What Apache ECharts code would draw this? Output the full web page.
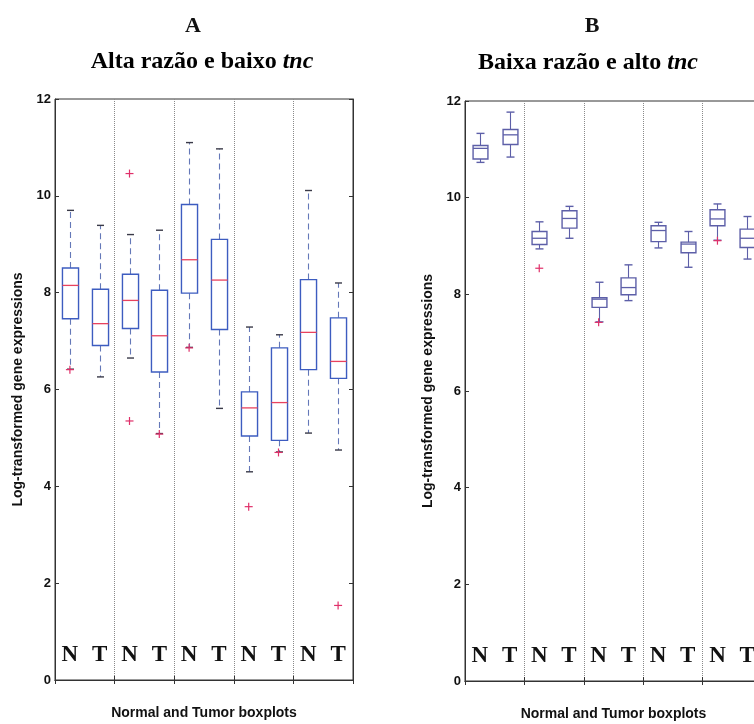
<!DOCTYPE html>
<html>
<head>
<meta charset="utf-8">
<script src="https://cdn.jsdelivr.net/npm/echarts@6/dist/echarts.min.js"></script>
<style>
html, body { margin: 0; padding: 0; background: #fff; }
#chart { width: 754px; height: 724px; }
</style>
</head>
<body>
<div id="chart"></div>
<script>
// categorias: pares normal / tumor
var categories = ['N', 'T', 'N', 'T', 'N', 'T', 'N', 'T', 'N', 'T'];

// A - Alta razão e baixo tnc
var aLow = [6.42, 6.26, 6.65, 5.09, 6.87, 5.61, 4.30, 4.71, 5.10, 4.75];
var aQ1 = [7.46, 6.91, 7.26, 6.36, 7.99, 7.24, 5.04, 4.95, 6.41, 6.23];
var aMed = [8.15, 7.36, 7.84, 7.11, 8.68, 8.26, 5.62, 5.73, 7.18, 6.58];
var aQ3 = [8.51, 8.07, 8.38, 8.05, 9.82, 9.10, 5.95, 6.86, 8.27, 7.48];
var aHigh = [9.70, 9.39, 9.20, 9.29, 11.10, 10.97, 7.29, 7.13, 10.11, 8.20];
var aOutliers = [[0, 6.41], [2, 10.46], [2, 5.35], [3, 5.08], [4, 6.86], [6, 3.58], [7, 4.70], [9, 1.54]];

// B - Baixa razão e alto tnc
var bLow = [10.73, 10.84, 8.94, 9.16, 7.43, 7.87, 8.96, 8.56, 9.12, 8.73];
var bQ1 = [10.80, 11.10, 9.03, 9.37, 7.73, 7.99, 9.09, 8.86, 9.42, 8.97];
var bMed = [11.02, 11.30, 9.16, 9.57, 7.90, 8.14, 9.32, 9.04, 9.56, 9.16];
var bQ3 = [11.08, 11.41, 9.30, 9.73, 7.93, 8.34, 9.42, 9.08, 9.75, 9.35];
var bHigh = [11.33, 11.77, 9.50, 9.82, 8.25, 8.61, 9.49, 9.30, 9.87, 9.61];
var bOutliers = [[2, 8.54], [4, 7.42], [8, 9.11]];

var chart = echarts.init(document.getElementById('chart'));

function boxData(lo, q1, med, q3, hi) {
    return categories.map(function (c, i) {
        return [i, lo[i], q1[i], med[i], q3[i], hi[i]];
    });
}

// desenha um boxplot estilo matlab
function boxRenderer(st) {
    return function (params, api) {
        var i = api.value(0);
        var lo = api.coord([i, api.value(1)]);
        var q1 = api.coord([i, api.value(2)]);
        var med = api.coord([i, api.value(3)]);
        var q3 = api.coord([i, api.value(4)]);
        var hi = api.coord([i, api.value(5)]);
        var band = api.size([1, 0])[0];
        var cx = Math.round(lo[0]) + 0.5;
        var hw = band * st.boxRatio / 2;
        var cw = st.capWidth / 2;
        var wStyle = { stroke: st.whisker, lineWidth: 1.1, lineDash: st.dash };
        var cStyle = { stroke: st.cap, lineWidth: 1.4 };
        return {
            type: 'group',
            children: [
                { type: 'line', shape: { x1: cx, y1: q3[1], x2: cx, y2: hi[1] }, style: wStyle },
                { type: 'line', shape: { x1: cx, y1: q1[1], x2: cx, y2: lo[1] }, style: wStyle },
                { type: 'line', shape: { x1: cx - cw, y1: hi[1], x2: cx + cw, y2: hi[1] }, style: cStyle },
                { type: 'line', shape: { x1: cx - cw, y1: lo[1], x2: cx + cw, y2: lo[1] }, style: cStyle },
                { type: 'rect', shape: { x: cx - hw, y: q3[1], width: hw * 2, height: q1[1] - q3[1] },
                  style: { fill: 'none', stroke: st.box, lineWidth: 1.4 } },
                { type: 'line', shape: { x1: cx - hw, y1: med[1], x2: cx + hw, y2: med[1] },
                  style: { stroke: st.median, lineWidth: 1.3 } }
            ]
        };
    };
}

function plusRenderer(params, api) {
    var p = api.coord([api.value(0), api.value(1)]);
    var s = 4;
    var style = { stroke: '#e0306a', lineWidth: 1.2 };
    return {
        type: 'group',
        children: [
            { type: 'line', shape: { x1: p[0] - s, y1: p[1], x2: p[0] + s, y2: p[1] }, style: style },
            { type: 'line', shape: { x1: p[0], y1: p[1] - s, x2: p[0], y2: p[1] + s }, style: style }
        ]
    };
}

function everyOther(index) {
    return index % 2 === 0;
}

function xAxes(gi) {
    return [{
        type: 'category',
        gridIndex: gi,
        data: categories,
        position: 'bottom',
        name: 'Normal and Tumor boxplots',
        nameLocation: 'middle',
        nameGap: 26,
        nameTextStyle: { fontSize: 14, fontWeight: 'bold', color: '#111', fontFamily: 'Liberation Sans' },
        axisLine: { show: true, lineStyle: { color: '#333' } },
        axisTick: { show: true, inside: true, length: 4, interval: everyOther, lineStyle: { color: '#333' } },
        axisLabel: {
            show: true, inside: true, margin: 13, interval: 0,
            fontFamily: 'Liberation Serif', fontWeight: 'bold', fontSize: 23, color: '#111'
        },
        splitLine: { show: true, interval: everyOther, lineStyle: { type: 'dotted', color: '#8a8a8a', width: 1 } }
    }, {
        type: 'category',
        gridIndex: gi,
        data: categories,
        position: 'top',
        axisLine: { show: true, lineStyle: { color: '#333' } },
        axisTick: { show: true, inside: true, length: 4, interval: everyOther, lineStyle: { color: '#333' } },
        axisLabel: { show: false },
        splitLine: { show: false }
    }];
}

function yAxes(gi) {
    return [{
        type: 'value',
        gridIndex: gi,
        position: 'left',
        min: 0,
        max: 12,
        interval: 2,
        name: 'Log-transformed gene expressions',
        nameLocation: 'middle',
        nameGap: 30,
        nameTextStyle: { fontSize: 14, fontWeight: 'bold', color: '#111', fontFamily: 'Liberation Sans' },
        axisLine: { show: true, lineStyle: { color: '#333' } },
        axisTick: { show: true, inside: true, length: 4, lineStyle: { color: '#333' } },
        axisLabel: { margin: 4, fontSize: 13, fontWeight: 'bold', color: '#111', fontFamily: 'Liberation Sans' },
        splitLine: { show: false }
    }, {
        type: 'value',
        gridIndex: gi,
        position: 'right',
        min: 0,
        max: 12,
        interval: 2,
        axisLine: { show: true, lineStyle: { color: '#333' } },
        axisTick: { show: true, inside: true, length: 4, lineStyle: { color: '#333' } },
        axisLabel: { show: false },
        splitLine: { show: false }
    }];
}

var styleA = { box: '#3d5cc0', whisker: '#6478b8', cap: '#3a3a48', median: '#e8425e', dash: [6, 4], boxRatio: 0.54, capWidth: 7 };
var styleB = { box: '#5d5fa8', whisker: '#5d5fa8', cap: '#5d5fa8', median: '#5d5fa8', dash: null, boxRatio: 0.5, capWidth: 8 };

chart.setOption({
    animation: false,
    backgroundColor: '#fff',
    textStyle: { fontFamily: 'Liberation Sans' },
    graphic: [
        { type: 'text', x: 193, y: 26, style: { text: 'A', align: 'center', verticalAlign: 'middle',
            font: 'bold 22px "Liberation Serif"', fill: '#111' } },
        { type: 'text', x: 592, y: 26, style: { text: 'B', align: 'center', verticalAlign: 'middle',
            font: 'bold 22px "Liberation Serif"', fill: '#111' } },
        { type: 'text', x: 202, y: 62, style: {
            text: '{b|Alta razão e baixo }{i|tnc}', align: 'center', verticalAlign: 'middle',
            rich: {
                b: { fontFamily: 'Liberation Serif', fontWeight: 'bold', fontSize: 24, color: '#111' },
                i: { fontFamily: 'Liberation Serif', fontWeight: 'bold', fontStyle: 'italic', fontSize: 24, color: '#111' }
            } } },
        { type: 'text', x: 588, y: 63, style: {
            text: '{b|Baixa razão e alto }{i|tnc}', align: 'center', verticalAlign: 'middle',
            rich: {
                b: { fontFamily: 'Liberation Serif', fontWeight: 'bold', fontSize: 24, color: '#111' },
                i: { fontFamily: 'Liberation Serif', fontWeight: 'bold', fontStyle: 'italic', fontSize: 24, color: '#111' }
            } } }
    ],
    grid: [
        { left: 55, top: 99, width: 298, height: 581, show: true, borderColor: '#333', borderWidth: 1, outerBoundsMode: 'none' },
        { left: 465, top: 101, width: 297, height: 580, show: true, borderColor: '#333', borderWidth: 1, outerBoundsMode: 'none' }
    ],
    xAxis: xAxes(0).concat(xAxes(1)),
    yAxis: yAxes(0).concat(yAxes(1)),
    series: [
        {
            type: 'custom', name: 'A', xAxisIndex: 0, yAxisIndex: 0,
            renderItem: boxRenderer(styleA),
            encode: { x: 0, y: [1, 2, 3, 4, 5] },
            data: boxData(aLow, aQ1, aMed, aQ3, aHigh)
        },
        {
            type: 'custom', name: 'A outliers', xAxisIndex: 0, yAxisIndex: 0,
            renderItem: plusRenderer,
            encode: { x: 0, y: 1 },
            data: aOutliers
        },
        {
            type: 'custom', name: 'B', xAxisIndex: 2, yAxisIndex: 2,
            renderItem: boxRenderer(styleB),
            encode: { x: 0, y: [1, 2, 3, 4, 5] },
            data: boxData(bLow, bQ1, bMed, bQ3, bHigh)
        },
        {
            type: 'custom', name: 'B outliers', xAxisIndex: 2, yAxisIndex: 2,
            renderItem: plusRenderer,
            encode: { x: 0, y: 1 },
            data: bOutliers
        }
    ]
});
</script>
</body>
</html>
